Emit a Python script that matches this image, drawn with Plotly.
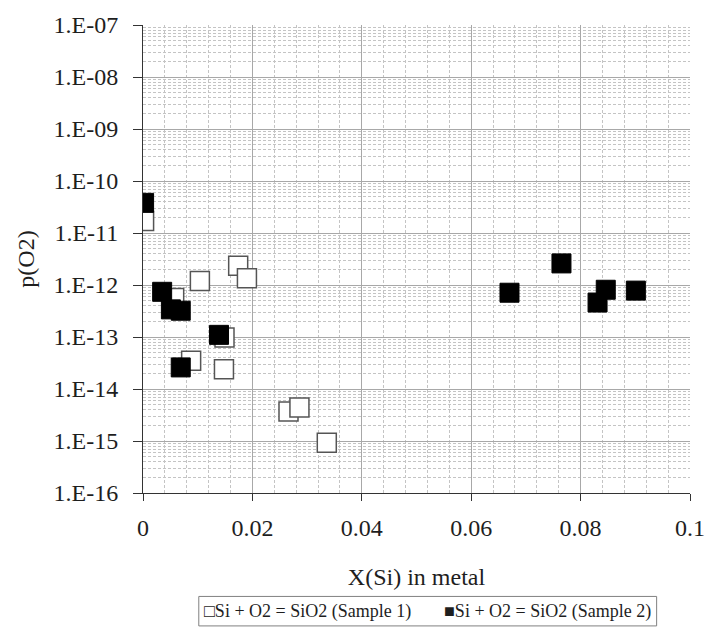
import plotly.graph_objects as go

# Sample 1 (hollow squares)
s1_x = [0.0002, 0.0104, 0.0174, 0.0190, 0.0057, 0.0088, 0.0149, 0.0148, 0.0266, 0.0286, 0.0336]
s1_y = [1.7e-11, 1.2e-12, 2.35e-12, 1.35e-12, 5.6e-13, 3.5e-14, 9.8e-14, 2.4e-14, 3.7e-15, 4.4e-15, 9.3e-16]

# Sample 2 (filled squares)
s2_x = [0.0002, 0.0035, 0.0051, 0.0069, 0.0139, 0.0069, 0.0670, 0.0765, 0.0831, 0.0846, 0.0901]
s2_y = [3.8e-11, 7.4e-13, 3.4e-13, 3.2e-13, 1.1e-13, 2.6e-14, 7.1e-13, 2.6e-12, 4.6e-13, 8.1e-13, 7.8e-13]

y_tickvals = [1e-16, 1e-15, 1e-14, 1e-13, 1e-12, 1e-11, 1e-10, 1e-9, 1e-8, 1e-7]
y_ticktext = ["1.E-16", "1.E-15", "1.E-14", "1.E-13", "1.E-12", "1.E-11", "1.E-10", "1.E-09", "1.E-08", "1.E-07"]
x_tickvals = [0, 0.02, 0.04, 0.06, 0.08, 0.1]
x_ticktext = ["0", "0.02", "0.04", "0.06", "0.08", "0.1"]

name1 = "Si + O2 = SiO2 (Sample 1)"
name2 = "Si + O2 = SiO2 (Sample 2)"

FONT = "Liberation Serif"
TXT = "#1e1e1e"

fig = go.Figure()
fig.add_trace(go.Scatter(
    x=s1_x, y=s1_y, mode="markers", name=name1, showlegend=False,
    marker=dict(symbol="square", size=19, color="white", line=dict(color="#555555", width=1.5)),
))
fig.add_trace(go.Scatter(
    x=s2_x, y=s2_y, mode="markers", name=name2, showlegend=False,
    marker=dict(symbol="square", size=19, color="black", line=dict(color="black", width=1)),
))

# legend drawn as a framed text box below the chart
fig.add_shape(type="rect", xref="paper", yref="paper",
              x0=0.102, x1=0.939, y0=-0.221, y1=-0.284,
              line=dict(color="#808080", width=1), fillcolor="white", layer="above")
fig.add_annotation(xref="paper", yref="paper", x=0.1075, y=-0.2526,
                   xanchor="left", yanchor="middle", showarrow=False,
                   text="\u25a1" + name1, font=dict(family=FONT, size=18, color=TXT))
fig.add_annotation(xref="paper", yref="paper", x=0.5466, y=-0.2526,
                   xanchor="left", yanchor="middle", showarrow=False,
                   text="\u25a0" + name2, font=dict(family=FONT, size=18, color=TXT))

fig.update_layout(
    width=717, height=638,
    margin=dict(l=143, r=16, t=18, b=145),
    paper_bgcolor="white", plot_bgcolor="white",
    font=dict(family=FONT, color=TXT),
    showlegend=False,
    xaxis=dict(
        range=[0, 0.1], tickvals=x_tickvals, ticktext=x_ticktext,
        showline=True, linecolor="#333333", linewidth=1,
        ticks="outside", ticklen=7, tickcolor="#333333",
        ticklabelstandoff=6,
        showgrid=True, gridcolor="#a8a8a8", gridwidth=1,
        minor=dict(dtick=0.004, showgrid=True, gridcolor="#c4c4c4", griddash="3px,2px", gridwidth=1),
        tickfont=dict(family=FONT, size=24, color=TXT),
        title=dict(text="X(Si) in metal", font=dict(family=FONT, size=24, color=TXT), standoff=28),
        zeroline=False,
    ),
    yaxis=dict(
        type="log", range=[-16, -7], tickvals=y_tickvals, ticktext=y_ticktext,
        showline=True, linecolor="#333333", linewidth=1,
        ticks="outside", ticklen=9, tickcolor="#333333",
        ticklabelstandoff=10,
        showgrid=True, gridcolor="#a8a8a8", gridwidth=1,
        minor=dict(dtick="D1", showgrid=True, gridcolor="#c4c4c4", griddash="3px,2px", gridwidth=1),
        tickfont=dict(family=FONT, size=24, color=TXT),
        title=dict(text="p(O2)", font=dict(family=FONT, size=24, color=TXT), standoff=12),
        zeroline=False,
    ),
)

fig.write_html("out.html")
